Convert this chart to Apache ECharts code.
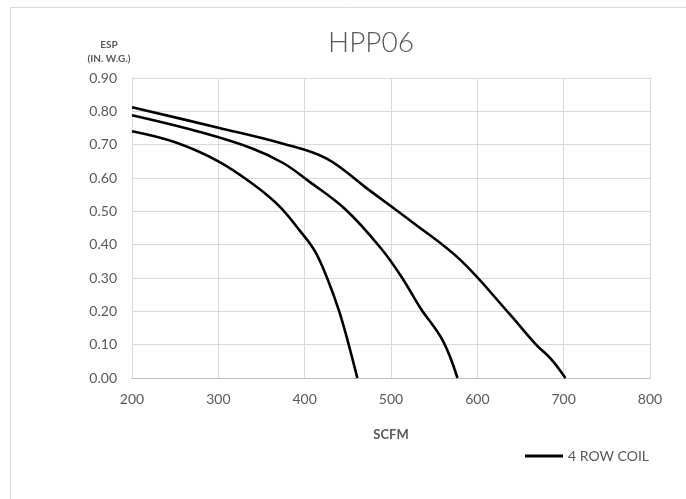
<!DOCTYPE html>
<html>
<head>
<meta charset="utf-8">
<script src="https://cdn.jsdelivr.net/npm/echarts@6/dist/echarts.min.js"></script>
<style>
html,body{margin:0;padding:0;background:#fff;}
#chart{width:686px;height:499px;}
</style>
</head>
<body>
<div id="chart"></div>
<script>
const seriesName = '4 ROW COIL';
const titleText = 'HPP06';
const xAxisName = 'SCFM';
const yAxisName = 'ESP\n(IN. W.G.)';

const curveLow = [[200,0.740],[250,0.707],[300,0.650],[340,0.582],[370,0.517],[395,0.440],[412,0.380],[426,0.300],[440,0.200],[450,0.110],[461,0.000]];
const curveMid = [[200,0.788],[280,0.737],[340,0.688],[375,0.645],[405,0.590],[448,0.504],[489,0.387],[513,0.300],[534,0.210],[560,0.112],[577,0.000]];
const curveHigh = [[200,0.812],[300,0.751],[375,0.703],[425,0.659],[472,0.569],[526,0.465],[580,0.355],[638,0.190],[668,0.100],[685,0.058],[702,0.000]];

const chart = echarts.init(document.getElementById('chart'));
const font = 'Lato, "Open Sans", sans-serif';
const lineStyle = {color:'#000', width:2.6};
function mk(data){
  return {name:seriesName, type:'line', data:data, smooth:0.38, showSymbol:false,
    symbol:'none', lineStyle:lineStyle, itemStyle:{color:'#000'}};
}
chart.setOption({
  animation:false,
  backgroundColor:'#fff',
  textStyle:{fontFamily:font},
  graphic:[{type:'rect', shape:{x:10.5,y:7.5,width:700,height:520}, style:{fill:'none', stroke:'#d9d9d9', lineWidth:1}, silent:true, z:-1}],
  title:{text:titleText, left:366, top:24, textAlign:'center',
    textStyle:{fontFamily:font, fontSize:28, fontWeight:300, color:'#595959'}},
  legend:{right:32, top:444, itemWidth:38, itemHeight:3, icon:'rect', itemGap:4,
    data:[{name:seriesName}],
    textStyle:{fontFamily:font, fontSize:14, color:'#595959'}},
  grid:{left:132, right:36, top:78, bottom:121},
  xAxis:{type:'value', min:200, max:800, interval:100,
    name:xAxisName, nameLocation:'middle', nameGap:50,
    nameTextStyle:{fontFamily:font, fontSize:13, fontWeight:'bold', color:'#595959'},
    axisLine:{show:true, lineStyle:{color:'#bfbfbf', width:1}},
    axisTick:{show:false},
    axisLabel:{fontFamily:font, fontSize:14, color:'#595959', margin:14},
    splitLine:{show:true, lineStyle:{color:'#d9d9d9', width:1}}},
  yAxis:{type:'value', min:0, max:0.9, interval:0.1,
    name:yAxisName, nameLocation:'end', nameGap:12,
    nameTextStyle:{fontFamily:font, fontSize:10, fontWeight:'bold', color:'#595959', align:'center', lineHeight:14, padding:[0,0,0,-46]},
    axisLine:{show:true, lineStyle:{color:'#d9d9d9', width:1}},
    axisTick:{show:false},
    axisLabel:{fontFamily:font, fontSize:14, color:'#595959', margin:15, formatter:function(v){return v.toFixed(2);}},
    splitLine:{show:true, lineStyle:{color:'#d9d9d9', width:1}}},
  series:[mk(curveLow), mk(curveMid), mk(curveHigh)]
});
</script>
</body>
</html>
